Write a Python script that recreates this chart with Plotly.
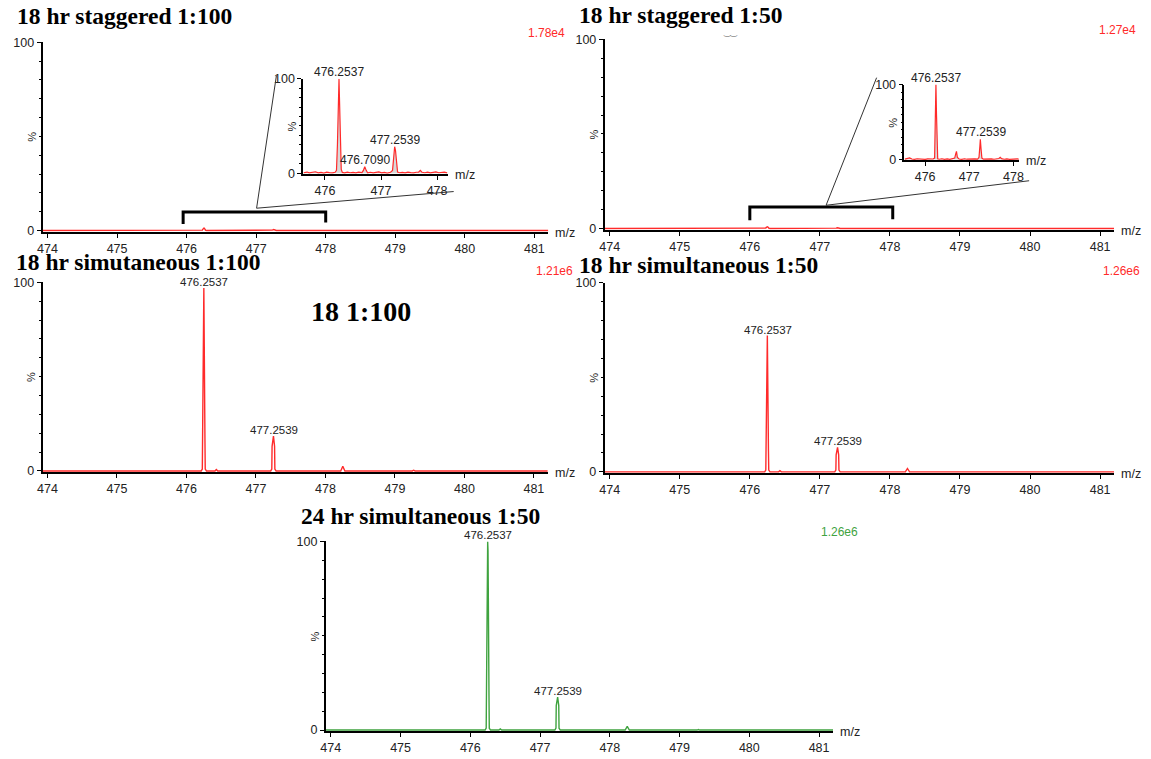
import plotly.graph_objects as go

W, H = 1151, 759

# ---------------- data ----------------
# main panels (m/z, % intensity)
mz_main = [473.93, 476.212, 476.228, 476.232, 476.250, 476.266, 476.270, 476.288,
           476.41, 476.43, 476.45, 477.212, 477.228, 477.232, 477.252, 477.268,
           477.272, 477.290, 478.22, 478.25, 478.28, 479.25, 479.27, 479.29, 481.20]
int_stag_100 = [0, 0, 0.2, 0.6, 1.3, 0.6, 0.2, 0, 0, 0, 0, 0, 0.1, 0.2, 0.5, 0.2, 0.1, 0, 0, 0, 0, 0, 0, 0, 0]
int_stag_50 = [0, 0, 0.2, 0.5, 0.9, 0.5, 0.2, 0, 0, 0, 0, 0, 0.1, 0.2, 0.4, 0.2, 0.1, 0, 0, 0, 0, 0, 0, 0, 0]
int_sim_100 = [0, 0, 1, 16, 97, 16, 1, 0, 0, 0.8, 0, 0, 1, 13, 18.5, 13, 1, 0, 0, 2.5, 0, 0, 0.4, 0, 0]
int_sim_50 = [0, 0, 1, 11, 72, 11, 1, 0, 0, 0.6, 0, 0, 1, 9, 13, 9, 1, 0, 0, 1.8, 0, 0, 0.2, 0, 0]

mz_24 = [473.93, 476.212, 476.228, 476.232, 476.249, 476.254, 476.268, 476.272, 476.290,
         476.41, 476.43, 476.45, 477.212, 477.228, 477.232, 477.252, 477.268,
         477.272, 477.290, 478.22, 478.25, 478.28, 479.25, 479.27, 479.29, 481.20]
int_24 = [0, 0, 1, 18, 100, 95, 18, 1, 0, 0, 0.6, 0, 0, 1, 13, 17.5, 13, 1, 0, 0, 2, 0, 0, 0.3, 0, 0]

# insets (zoomed 18 hr staggered spectra)
mz_in1 = [475.62, 475.68, 475.72, 475.78, 475.83, 475.88, 475.93, 475.98, 476.03, 476.08,
          476.13, 476.18, 476.205, 476.222, 476.238, 476.25, 476.258, 476.272, 476.29, 476.31,
          476.35, 476.40, 476.45, 476.50, 476.55, 476.60, 476.66, 476.685, 476.71, 476.735,
          476.76, 476.81, 476.86, 476.91, 476.96, 477.01, 477.06, 477.11, 477.17, 477.205,
          477.225, 477.243, 477.258, 477.275, 477.295, 477.33, 477.38, 477.43, 477.48, 477.53,
          477.58, 477.63, 477.67, 477.70, 477.73, 477.78, 477.83, 477.88, 477.93, 477.98,
          478.03, 478.08, 478.13, 478.18]
int_in1 = [0.5, 1.2, 0.3, 0.8, 1.5, 0.4, 0.9, 0.2, 1.1, 0.6,
           0.3, 1.0, 3, 30, 80, 100, 80, 30, 4, 0.8,
           0.4, 1.2, 0.5, 0.9, 0.3, 1.1, 0.6, 3, 7, 3,
           0.5, 1.0, 0.3, 0.8, 1.3, 0.4, 0.9, 0.2, 1.0, 3,
           15, 28, 24, 8, 1.2, 0.5, 0.9, 0.3, 1.1, 0.6,
           0.4, 1.0, 1.2, 3, 1.0, 0.5, 1.2, 0.3, 0.9, 1.4,
           0.5, 0.8, 1.1, 0.4]

mz_in2 = [475.54, 475.60, 475.65, 475.70, 475.76, 475.82, 475.88, 475.94, 476.00, 476.06,
          476.12, 476.18, 476.215, 476.232, 476.245, 476.258, 476.27, 476.285, 476.32, 476.38,
          476.44, 476.50, 476.56, 476.62, 476.67, 476.69, 476.71, 476.73, 476.77, 476.83,
          476.89, 476.95, 477.01, 477.07, 477.13, 477.19, 477.22, 477.24, 477.25, 477.265,
          477.285, 477.32, 477.38, 477.44, 477.50, 477.56, 477.62, 477.67, 477.70, 477.73,
          477.79, 477.85, 477.91, 477.97, 478.03, 478.09, 478.12]
int_in2 = [0.6, 1.0, 2.2, 0.8, 0.4, 1.1, 0.5, 0.9, 0.3, 1.0,
           0.6, 0.8, 2, 40, 100, 60, 8, 1.0, 0.5, 1.1,
           0.4, 0.9, 0.3, 1.0, 2, 7, 11, 3, 0.8, 0.4,
           1.1, 0.5, 0.9, 0.3, 1.0, 0.6, 3, 18, 27, 15,
           2, 0.6, 1.0, 0.4, 0.9, 0.5, 1.1, 1.5, 3, 1.2,
           0.5, 1.0, 0.4, 0.9, 0.6, 1.0, 0.5]

main_ticks = [474, 475, 476, 477, 478, 479, 480, 481]
inset_ticks = [476, 477, 478]
y_ticks = [0, 100]
y_minor = [10, 20, 30, 40, 50, 60, 70, 80, 90]

titles = ["18 hr staggered 1:100", "18 hr staggered 1:50", "18 hr simutaneous 1:100",
          "18 hr simultaneous 1:50", "24 hr simultaneous 1:50"]
scales = ["1.78e4", "1.27e4", "1.21e6", "1.26e6", "1.26e6"]
peak_labels = {
    3: [(476.2537, 97, "476.2537"), (477.2539, 18.5, "477.2539")],
    4: [(476.2537, 72, "476.2537"), (477.2539, 13, "477.2539")],
    5: [(476.2537, 100, "476.2537"), (477.2539, 17.5, "477.2539")],
    6: [(476.2537, 100, "476.2537"), (476.7090, 7, "476.7090"), (477.2539, 28, "477.2539")],
    7: [(476.2537, 100, "476.2537"), (477.2539, 27, "477.2539")],
}

RED = "#ff2a2a"
GREEN = "#3fa33f"

# ---------------- layout geometry (pixels) ----------------
# idx: (x0, x1, y_top, y_bottom, xrange, ticks, axis line width, color)
panels = {
    1: (37, 547.5, 36, 229, [473.93, 481.2], main_ticks, 2, RED),
    2: (604.6, 1118.8, 33, 227, [473.93, 481.2], main_ticks, 2, RED),
    3: (37, 547, 280.5, 474, [473.93, 481.2], main_ticks, 2, RED),
    4: (604.6, 1118.8, 280.7, 475, [473.93, 481.2], main_ticks, 2, RED),
    5: (323, 835, 544.5, 738, [473.93, 481.2], main_ticks, 2, GREEN),
    6: (300, 446, 73, 170, [475.61, 478.19], inset_ticks, 1.5, RED),
    7: (907, 1023, 79, 156, [475.53, 478.13], inset_ticks, 1.5, RED),
}
series = {1: (mz_main, int_stag_100), 2: (mz_main, int_stag_50), 3: (mz_main, int_sim_100),
          4: (mz_main, int_sim_50), 5: (mz_24, int_24), 6: (mz_in1, int_in1), 7: (mz_in2, int_in2)}


def px(x):
    return x / W


def py(y):
    return 1 - y / H


fig = go.Figure()
layout = dict(width=W, height=H, margin=dict(l=0, r=0, t=0, b=0),
              paper_bgcolor="white", plot_bgcolor="rgba(0,0,0,0)", showlegend=False)
annotations = []
shapes = []
tickfont = dict(family="Liberation Sans, Arial", size=12.5, color="#222")

for i, (x0, x1, yt, yb, xr, tv, lw, col) in panels.items():
    sx = "" if i == 1 else str(i)
    inset = i >= 6
    layout["xaxis" + sx] = dict(
        domain=[px(x0), px(x1)], range=xr, anchor="y" + sx, tickmode="array", tickvals=tv,
        showline=True, linecolor="black", linewidth=lw, ticks="outside", ticklen=4,
        tickcolor="black", tickwidth=1, tickfont=tickfont, showgrid=False, zeroline=False,
        layer="below traces", fixedrange=True)
    layout["yaxis" + sx] = dict(
        domain=[py(yb), py(yt)], range=[-0.7, 100], anchor="x" + sx, tickmode="array",
        tickvals=y_ticks, showline=True, linecolor="black", linewidth=lw, ticks="outside",
        ticklen=4, tickcolor="black", tickwidth=1, tickfont=tickfont, showgrid=False,
        zeroline=False, layer="below traces", fixedrange=True,
        minor=dict(tickvals=y_minor, ticks="outside", ticklen=2, tickcolor="black", tickwidth=1))
    xs, ys = series[i]
    fig.add_trace(go.Scatter(
        x=xs, y=ys, mode="lines", xaxis="x" + sx, yaxis="y" + sx,
        line=dict(color=col, width=1.2 if inset else 1.4),
        fill="tozeroy" if inset else None,
        fillcolor="rgba(185,185,185,0.55)" if inset else None,
        hoverinfo="skip"))
    # m/z label
    annotations.append(dict(text="m/z", xref="paper", yref="paper", x=px(x1 + 5), y=py(yb + 1),
                            xanchor="left", yanchor="middle", showarrow=False,
                            font=dict(family="Liberation Sans, Arial", size=12.5, color="#222")))
    # % label
    annotations.append(dict(text="%", xref="paper", yref="paper",
                            x=px(x0 - 11), y=py((yt + yb) / 2), textangle=-90,
                            xanchor="center", yanchor="middle", showarrow=False,
                            font=dict(family="Liberation Sans, Arial", size=11, color="#222")))
    for (mx, hy, lab) in peak_labels.get(i, []):
        annotations.append(dict(text=lab, xref="x" + sx, yref="y" + sx, x=mx, y=hy,
                                xanchor="center", yanchor="bottom", showarrow=False, yshift=-2,
                                font=dict(family="Liberation Sans, Arial",
                                          size=12 if inset else 11.5, color="#222")))

# titles and intensity scales
title_pos = [(9, 9.5), (577, 8.5), (8, 259.5), (577, 262.5), (296, 519)]
scale_pos = [(566, 26), (1143, 23), (574, 269), (1147, 269), (862, 535)]
for k, (t, (tx, ty), s, (sxp, syp)) in enumerate(zip(titles, title_pos, scales, scale_pos)):
    annotations.append(dict(text="<b>" + t + "</b>", xref="paper", yref="paper", x=px(tx), y=py(ty),
                            xanchor="left", yanchor="middle", showarrow=False,
                            font=dict(family="Liberation Serif, Times New Roman", size=23.5, color="black")))
    annotations.append(dict(text=s, xref="paper", yref="paper", x=px(sxp), y=py(syp),
                            xanchor="right", yanchor="middle", showarrow=False,
                            font=dict(family="Liberation Sans, Arial", size=12,
                                      color=GREEN if k == 4 else RED)))

annotations.append(dict(text="<b>18 1:100</b>", xref="paper", yref="paper", x=px(358), y=py(310),
                        xanchor="center", yanchor="middle", showarrow=False,
                        font=dict(family="Liberation Serif, Times New Roman", size=28, color="black")))
annotations.append(dict(text="‿‿", xref="paper", yref="paper", x=px(731), y=py(26),
                        xanchor="center", yanchor="middle", showarrow=False,
                        font=dict(family="DejaVu Sans", size=8, color="#555")))

# zoom brackets on the main staggered spectra
shapes.append(dict(type="path", xref="x", yref="y", path="M 475.95,3.4 L 475.95,9.8 L 478.0,9.8 L 478.0,4.2",
                   line=dict(color="black", width=3)))
shapes.append(dict(type="path", xref="x2", yref="y2", path="M 476.0,4.4 L 476.0,11.3 L 478.04,11.3 L 478.04,4.9",
                   line=dict(color="black", width=3)))
# callout lines toward insets
for pts in ([(273, 70), (253, 205), (452, 188)], [(879, 72), (828, 202), (1033, 177)]):
    path = "M " + " L ".join(f"{px(a)},{py(b)}" for a, b in pts)
    shapes.append(dict(type="path", xref="paper", yref="paper", path=path,
                       line=dict(color="#333", width=1)))

layout["annotations"] = annotations
layout["shapes"] = shapes
fig.update_layout(**layout)
fig.write_html("out.html")
